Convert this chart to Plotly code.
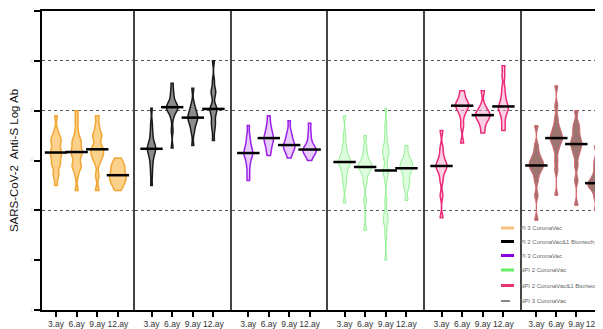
import numpy as np
import plotly.graph_objects as go
from plotly.subplots import make_subplots

# ---------------- data ----------------
time_points = ["3.ay", "6.ay", "9.ay", "12.ay"]
group_names = ["PI 3 CoronaVac", "PI 2 CoronaVac&1 Biontech", "PI 3 CoronaVac",
               "NPI 2 CoronaVac", "NPI 2 CoronaVac&1 Biontech", "NPI 3 CoronaVac"]
y_tick_vals = [1, 2, 3, 4, 5, 6, 7]
ref_lines = [3, 5, 6]

# PI 3 CoronaVac (orange)
pi3a_3 = [3.5, 3.7, 3.72, 3.9, 3.92, 3.95, 4.05, 4.1, 4.15, 4.17, 4.2, 4.3, 4.38, 4.4, 4.42, 4.5, 4.6, 4.9]
pi3a_6 = [3.4, 3.7, 3.85, 3.88, 3.9, 4.0, 4.1, 4.15, 4.17, 4.2, 4.3, 4.35, 4.4, 4.45, 4.6, 4.8, 5.0]
pi3a_9 = [3.4, 3.7, 3.95, 4.05, 4.1, 4.15, 4.2, 4.25, 4.3, 4.45, 4.5, 4.55, 4.7, 4.9]
pi3a_12 = [3.4, 3.5, 3.55, 3.6, 3.65, 3.69, 3.72, 3.8, 3.85, 3.9, 3.95, 4.05]
# PI 2 CoronaVac & 1 Biontech (grey/black)
pi2b_3 = [3.5, 3.7, 3.85, 3.95, 4.05, 4.1, 4.15, 4.2, 4.22, 4.25, 4.27, 4.3, 4.35, 4.4, 4.5, 4.6, 4.75, 5.05]
pi2b_6 = [4.25, 4.6, 4.85, 4.95, 5.0, 5.03, 5.05, 5.07, 5.08, 5.1, 5.15, 5.2, 5.3, 5.4, 5.55]
pi2b_9 = [4.3, 4.55, 4.65, 4.72, 4.78, 4.82, 4.85, 4.87, 4.9, 4.95, 5.0, 5.05, 5.15, 5.45]
pi2b_12 = [4.4, 4.6, 4.72, 4.78, 4.9, 4.98, 5.02, 5.05, 5.1, 5.3, 5.38, 5.42, 5.6, 6.0]
# PI 3 CoronaVac (purple)
pi3c_3 = [3.6, 3.75, 3.9, 4.0, 4.08, 4.12, 4.15, 4.18, 4.25, 4.3, 4.4, 4.5, 4.7]
pi3c_6 = [4.1, 4.2, 4.28, 4.35, 4.4, 4.43, 4.47, 4.52, 4.58, 4.65, 4.75, 4.9]
pi3c_9 = [4.05, 4.15, 4.2, 4.25, 4.28, 4.3, 4.32, 4.38, 4.45, 4.5, 4.6, 4.8]
pi3c_12 = [4.0, 4.1, 4.15, 4.18, 4.2, 4.22, 4.25, 4.3, 4.4, 4.55, 4.75]
# NPI 2 CoronaVac (green)
npi2_3 = [3.15, 3.5, 3.65, 3.75, 3.85, 3.9, 3.95, 3.97, 4.0, 4.05, 4.1, 4.2, 4.3, 4.5, 4.9]
npi2_6 = [2.6, 3.2, 3.55, 3.7, 3.8, 3.85, 3.87, 3.9, 3.95, 4.0, 4.1, 4.25, 4.5]
npi2_9 = [2.0, 2.5, 2.7, 2.8, 2.85, 2.95, 3.2, 3.6, 3.75, 3.78, 3.82, 4.0, 4.1, 4.15, 4.2, 4.25, 4.35, 4.5, 4.7, 5.05]
npi2_12 = [3.2, 3.45, 3.55, 3.65, 3.75, 3.82, 3.87, 3.9, 3.95, 4.0, 4.1, 4.3]
# NPI 2 CoronaVac & 1 Biontech (pink)
npi2b_3 = [2.85, 3.3, 3.6, 3.75, 3.82, 3.88, 3.9, 3.93, 4.0, 4.1, 4.25, 4.6]
npi2b_6 = [4.35, 4.7, 4.9, 5.0, 5.05, 5.1, 5.12, 5.15, 5.2, 5.3, 5.4]
npi2b_9 = [4.55, 4.7, 4.8, 4.85, 4.9, 4.92, 4.95, 5.0, 5.1, 5.4]
npi2b_12 = [4.6, 4.75, 4.9, 4.98, 5.05, 5.07, 5.1, 5.2, 5.3, 5.45, 5.7, 5.9]
# NPI 3 CoronaVac (hatched)
npi3_3 = [2.8, 3.3, 3.6, 3.75, 3.82, 3.88, 3.9, 3.95, 4.0, 4.05, 4.15, 4.3, 4.7]
npi3_6 = [3.3, 3.8, 4.0, 4.2, 4.3, 4.38, 4.42, 4.45, 4.5, 4.55, 4.62, 4.7, 4.85, 5.1, 5.5]
npi3_9 = [3.1, 3.6, 3.9, 4.1, 4.2, 4.28, 4.33, 4.38, 4.45, 4.55, 4.65, 4.75, 5.0]
npi3_12 = [3.0, 3.25, 3.4, 3.47, 3.5, 3.53, 3.56, 3.62, 3.7, 3.85, 4.0, 4.3]

panel_values = [
    [pi3a_3, pi3a_6, pi3a_9, pi3a_12],
    [pi2b_3, pi2b_6, pi2b_9, pi2b_12],
    [pi3c_3, pi3c_6, pi3c_9, pi3c_12],
    [npi2_3, npi2_6, npi2_9, npi2_12],
    [npi2b_3, npi2b_6, npi2b_9, npi2b_12],
    [npi3_3, npi3_6, npi3_9, npi3_12],
]

# ---------------- styles ----------------
line_colors = ["#f2a533", "#1a1a1a", "#9b1fe8", "#8cf08c", "#ec2a78", "#d9606a"]
fill_colors = ["rgba(250,195,100,0.75)", "#8c8c8c", "rgba(190,110,240,0.35)",
               "rgba(200,250,200,0.6)", "rgba(250,170,205,0.55)", "#9d7470"]
legend_colors = ["#f7c07a", "#000000", "#8a00e0", "#66ee66", "#e8336e", "#888888"]
violin_widths = [0.8, 0.55, 0.65, 0.65, 0.7, 0.85]
line_widths = [1.5, 1.5, 1.5, 1.0, 1.5, 1.0]

W, H = 603, 329
MT, MB = 3, 27
bounds_px = [34, 127, 224, 320, 417, 514, 603]
x_ranges = [[-0.68, 3.83], [-0.8, 3.9], [-0.8, 3.9], [-0.8, 3.9], [-0.8, 3.9], [-0.72, 3.74]]
FONT = "Liberation Sans, Arial, sans-serif"

fig = make_subplots(rows=1, cols=6, shared_yaxes=True, horizontal_spacing=0)

for i, vals_list in enumerate(panel_values):
    col = i + 1
    xs, ys = [], []
    for tp, vals in zip(time_points, vals_list):
        xs += [tp] * len(vals)
        ys += vals
    fig.add_trace(go.Violin(
        x=xs, y=ys, name=group_names[i], showlegend=False,
        line=dict(color=line_colors[i], width=line_widths[i]),
        fillcolor=fill_colors[i], width=violin_widths[i],
        spanmode="hard", bandwidth=0.08, points=False, scalemode="width",
        hoverinfo="skip"), row=1, col=col)
    meds = [float(np.median(v)) for v in vals_list]
    fig.add_trace(go.Scatter(
        x=time_points, y=meds, mode="markers", showlegend=False, hoverinfo="skip",
        marker=dict(symbol="line-ew", size=16, color="black",
                    line=dict(color="black", width=2.5))), row=1, col=col)

for i in range(6):
    sfx = "" if i == 0 else str(i + 1)
    fig.layout["xaxis" + sfx].update(
        domain=[bounds_px[i] / W, bounds_px[i + 1] / W],
        type="category", categoryorder="array", categoryarray=time_points,
        range=x_ranges[i], showgrid=False, zeroline=False,
        showline=True, linecolor="black", linewidth=2, mirror=True,
        ticks="outside", ticklen=5, tickwidth=2, tickcolor="black",
        tickangle=0, automargin=False,
        tickfont=dict(family=FONT, size=8.5, color="#333"))
    common_minor = dict(tickvals=ref_lines, showgrid=True, griddash="dot",
                        gridcolor="#555", gridwidth=1, ticks="")
    if i == 0:
        fig.layout["yaxis"].update(
            range=[1, 7], tickvals=y_tick_vals, ticktext=[str(v) for v in y_tick_vals],
            showgrid=False, zeroline=False, showline=True, linecolor="black", linewidth=2,
            ticks="outside", ticklen=6, tickwidth=1.5, tickcolor="black",
            tickfont=dict(family=FONT, size=5, color="#d4d4d4"),
            minor=common_minor, automargin=False,
            title=dict(text="SARS-CoV-2  Anti-S Log Ab", standoff=9,
                       font=dict(family=FONT, size=11.5, color="#111")))
    else:
        fig.layout["yaxis" + sfx].update(
            range=[1, 7], showgrid=False, zeroline=False, showline=True,
            linecolor="#444", linewidth=2, ticks="", showticklabels=False,
            minor=common_minor)

# legend drawn as layout items (line keys + text)
plot_h = H - MT - MB
legend_rows_px = [220, 233.5, 247.5, 262, 277.5, 293]
for name, col, ypx in zip(group_names, legend_colors, legend_rows_px):
    yp = (H - MB - ypx) / plot_h
    fig.add_shape(type="line", xref="paper", yref="paper",
                  x0=493 / W, x1=506 / W, y0=yp, y1=yp,
                  line=dict(color=col, width=3 if col != "#888888" else 2,
                            dash="solid" if col != "#888888" else "dash"))
    fig.add_annotation(xref="paper", yref="paper", x=510 / W, y=yp, text=name,
                       showarrow=False, xanchor="left", yanchor="middle",
                       font=dict(family=FONT, size=6, color="#666"))

fig.update_layout(
    width=W, height=H, margin=dict(l=0, r=0, t=MT, b=MB, autoexpand=False),
    paper_bgcolor="white", plot_bgcolor="white", violinmode="overlay",
    showlegend=False, font=dict(family=FONT))

fig.write_html("out.html")
